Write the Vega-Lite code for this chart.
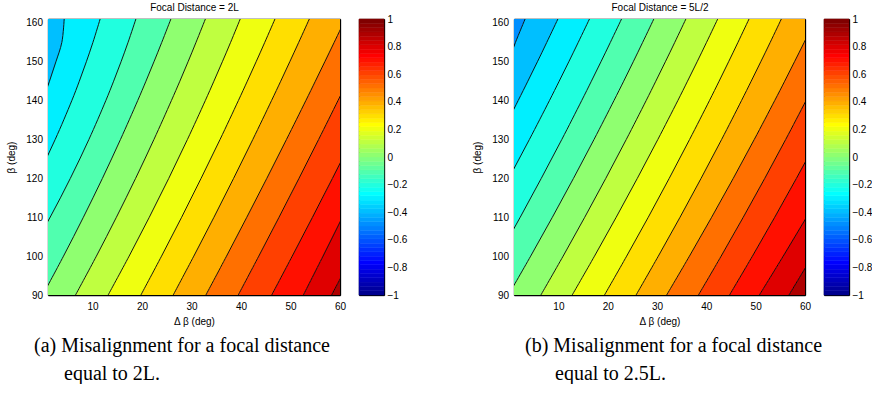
{
  "$schema": "https://vega.github.io/schema/vega-lite/v6.json",
  "background": "white",
  "padding": {"left": 6, "top": 2, "right": 0, "bottom": 0},
  "config": {
    "font": "Liberation Sans",
    "view": {"stroke": null},
    "axis": {
      "grid": false, "domainColor": "#000000", "domainWidth": 1.3,
      "tickColor": "#000000", "tickWidth": 1,
      "labelColor": "#000000", "titleColor": "#000000",
      "labelFontSize": 10, "titleFontSize": 10, "titleFontWeight": "normal",
      "labelFlush": false, "labelOverlap": false, "zindex": 1
    }
  },
  "datasets": {
    "a": [
      {"z":-0.4,"beta":90,"db":-100},{"z":-0.4,"beta":100,"db":-100},{"z":-0.4,"beta":110,"db":-100},{"z":-0.4,"beta":120,"db":-100},{"z":-0.4,"beta":130,"db":-100},{"z":-0.4,"beta":140,"db":-100},{"z":-0.4,"beta":145,"db":-100},{"z":-0.4,"beta":150,"db":-100},{"z":-0.4,"beta":155,"db":-100},{"z":-0.4,"beta":161,"db":-100},
      {"z":-0.3,"beta":90,"db":-20},{"z":-0.3,"beta":100,"db":-15},{"z":-0.3,"beta":110,"db":-10.5},{"z":-0.3,"beta":120,"db":-6.5},{"z":-0.3,"beta":130,"db":-3},{"z":-0.3,"beta":140,"db":-0.1},{"z":-0.3,"beta":145,"db":1.3},{"z":-0.3,"beta":150,"db":2.6},{"z":-0.3,"beta":155,"db":3.8},{"z":-0.3,"beta":161,"db":4.27},
      {"z":-0.2,"beta":90,"db":-14.95},{"z":-0.2,"beta":100,"db":-10},{"z":-0.2,"beta":110,"db":-5.45},{"z":-0.2,"beta":120,"db":-1.3},{"z":-0.2,"beta":130,"db":2.45},{"z":-0.2,"beta":140,"db":5.81},{"z":-0.2,"beta":145,"db":7.33},{"z":-0.2,"beta":150,"db":8.75},{"z":-0.2,"beta":155,"db":10.08},{"z":-0.2,"beta":161,"db":11.54},
      {"z":-0.1,"beta":90,"db":-7.75},{"z":-0.1,"beta":100,"db":-2.99},{"z":-0.1,"beta":110,"db":1.43},{"z":-0.1,"beta":120,"db":5.51},{"z":-0.1,"beta":130,"db":9.26},{"z":-0.1,"beta":140,"db":12.68},{"z":-0.1,"beta":145,"db":14.26},{"z":-0.1,"beta":150,"db":15.76},{"z":-0.1,"beta":155,"db":17.18},{"z":-0.1,"beta":161,"db":18.76},
      {"z":0,"beta":90,"db":-0.07},{"z":0,"beta":100,"db":4.13},{"z":0,"beta":110,"db":8.15},{"z":0,"beta":120,"db":11.99},{"z":0,"beta":130,"db":15.64},{"z":0,"beta":140,"db":19.12},{"z":0,"beta":145,"db":20.79},{"z":0,"beta":150,"db":22.41},{"z":0,"beta":155,"db":23.99},{"z":0,"beta":161,"db":25.83},
      {"z":0.1,"beta":90,"db":6.56},{"z":0.1,"beta":100,"db":10.78},{"z":0.1,"beta":110,"db":14.82},{"z":0.1,"beta":120,"db":18.7},{"z":0.1,"beta":130,"db":22.4},{"z":0.1,"beta":140,"db":25.93},{"z":0.1,"beta":145,"db":27.64},{"z":0.1,"beta":150,"db":29.3},{"z":0.1,"beta":155,"db":30.91},{"z":0.1,"beta":161,"db":32.8},
      {"z":0.2,"beta":90,"db":13.15},{"z":0.2,"beta":100,"db":17.39},{"z":0.2,"beta":110,"db":21.47},{"z":0.2,"beta":120,"db":25.4},{"z":0.2,"beta":130,"db":29.17},{"z":0.2,"beta":140,"db":32.78},{"z":0.2,"beta":145,"db":34.52},{"z":0.2,"beta":150,"db":36.23},{"z":0.2,"beta":155,"db":37.9},{"z":0.2,"beta":161,"db":39.84},
      {"z":0.3,"beta":90,"db":19.77},{"z":0.3,"beta":100,"db":23.94},{"z":0.3,"beta":110,"db":28},{"z":0.3,"beta":120,"db":31.93},{"z":0.3,"beta":130,"db":35.76},{"z":0.3,"beta":140,"db":39.46},{"z":0.3,"beta":145,"db":41.27},{"z":0.3,"beta":150,"db":43.05},{"z":0.3,"beta":155,"db":44.8},{"z":0.3,"beta":161,"db":46.86},
      {"z":0.4,"beta":90,"db":26.3},{"z":0.4,"beta":100,"db":30.46},{"z":0.4,"beta":110,"db":34.53},{"z":0.4,"beta":120,"db":38.5},{"z":0.4,"beta":130,"db":42.38},{"z":0.4,"beta":140,"db":46.16},{"z":0.4,"beta":145,"db":48.02},{"z":0.4,"beta":150,"db":49.85},{"z":0.4,"beta":155,"db":51.66},{"z":0.4,"beta":161,"db":53.8},
      {"z":0.5,"beta":90,"db":32.9},{"z":0.5,"beta":100,"db":37.07},{"z":0.5,"beta":110,"db":41.17},{"z":0.5,"beta":120,"db":45.21},{"z":0.5,"beta":130,"db":49.18},{"z":0.5,"beta":140,"db":53.09},{"z":0.5,"beta":145,"db":55.02},{"z":0.5,"beta":150,"db":56.93},{"z":0.5,"beta":155,"db":58.83},{"z":0.5,"beta":161,"db":61.09},
      {"z":0.6,"beta":90,"db":39.44},{"z":0.6,"beta":100,"db":43.59},{"z":0.6,"beta":110,"db":47.68},{"z":0.6,"beta":120,"db":51.71},{"z":0.6,"beta":130,"db":55.68},{"z":0.6,"beta":140,"db":59.59},{"z":0.6,"beta":145,"db":61.52},{"z":0.6,"beta":150,"db":63.43},{"z":0.6,"beta":155,"db":65.34},{"z":0.6,"beta":161,"db":67.6},
      {"z":0.7,"beta":90,"db":46.2},{"z":0.7,"beta":100,"db":50.35},{"z":0.7,"beta":110,"db":54.44},{"z":0.7,"beta":120,"db":58.47},{"z":0.7,"beta":130,"db":62.44},{"z":0.7,"beta":140,"db":66.35},{"z":0.7,"beta":145,"db":68.28},{"z":0.7,"beta":150,"db":70.2},{"z":0.7,"beta":155,"db":72.1},{"z":0.7,"beta":161,"db":74.37},
      {"z":0.8,"beta":90,"db":52.6},{"z":0.8,"beta":100,"db":56.57},{"z":0.8,"beta":110,"db":60.48},{"z":0.8,"beta":120,"db":64.33},{"z":0.8,"beta":130,"db":68.12},{"z":0.8,"beta":140,"db":71.85},{"z":0.8,"beta":145,"db":73.69},{"z":0.8,"beta":150,"db":75.52},{"z":0.8,"beta":155,"db":77.33},{"z":0.8,"beta":161,"db":79.49},
      {"z":0.9,"beta":90,"db":58.3},{"z":0.9,"beta":100,"db":62.47},{"z":0.9,"beta":110,"db":66.58},{"z":0.9,"beta":120,"db":70.63},{"z":0.9,"beta":130,"db":74.62},{"z":0.9,"beta":140,"db":78.55},{"z":0.9,"beta":145,"db":80.49},{"z":0.9,"beta":150,"db":82.42},{"z":0.9,"beta":155,"db":84.33},{"z":0.9,"beta":161,"db":86.61},
      {"z":1,"beta":90,"db":150},{"z":1,"beta":100,"db":150},{"z":1,"beta":110,"db":150},{"z":1,"beta":120,"db":150},{"z":1,"beta":130,"db":150},{"z":1,"beta":140,"db":150},{"z":1,"beta":145,"db":150},{"z":1,"beta":150,"db":150},{"z":1,"beta":155,"db":150},{"z":1,"beta":161,"db":150}
    ],
    "b": [
      {"z":-0.5,"beta":90,"db":-100},{"z":-0.5,"beta":100,"db":-100},{"z":-0.5,"beta":110,"db":-100},{"z":-0.5,"beta":120,"db":-100},{"z":-0.5,"beta":130,"db":-100},{"z":-0.5,"beta":140,"db":-100},{"z":-0.5,"beta":145,"db":-100},{"z":-0.5,"beta":150,"db":-100},{"z":-0.5,"beta":155,"db":-100},{"z":-0.5,"beta":161,"db":-100},
      {"z":-0.4,"beta":90,"db":-26},{"z":-0.4,"beta":100,"db":-21.6},{"z":-0.4,"beta":110,"db":-17.2},{"z":-0.4,"beta":120,"db":-12.9},{"z":-0.4,"beta":130,"db":-8.6},{"z":-0.4,"beta":140,"db":-4.4},{"z":-0.4,"beta":145,"db":-2.3},{"z":-0.4,"beta":150,"db":-0.2},{"z":-0.4,"beta":155,"db":1.3},{"z":-0.4,"beta":161,"db":3.25},
      {"z":-0.3,"beta":90,"db":-19.49},{"z":-0.3,"beta":100,"db":-14.98},{"z":-0.3,"beta":110,"db":-10.6},{"z":-0.3,"beta":120,"db":-6.33},{"z":-0.3,"beta":130,"db":-2.19},{"z":-0.3,"beta":140,"db":1.84},{"z":-0.3,"beta":145,"db":3.81},{"z":-0.3,"beta":150,"db":5.75},{"z":-0.3,"beta":155,"db":7.65},{"z":-0.3,"beta":161,"db":9.9},
      {"z":-0.2,"beta":90,"db":-13.3},{"z":-0.2,"beta":100,"db":-8.77},{"z":-0.2,"beta":110,"db":-4.35},{"z":-0.2,"beta":120,"db":-0.06},{"z":-0.2,"beta":130,"db":4.12},{"z":-0.2,"beta":140,"db":8.18},{"z":-0.2,"beta":145,"db":10.16},{"z":-0.2,"beta":150,"db":12.11},{"z":-0.2,"beta":155,"db":14.03},{"z":-0.2,"beta":161,"db":16.3},
      {"z":-0.1,"beta":90,"db":-6.65},{"z":-0.1,"beta":100,"db":-2.13},{"z":-0.1,"beta":110,"db":2.26},{"z":-0.1,"beta":120,"db":6.53},{"z":-0.1,"beta":130,"db":10.69},{"z":-0.1,"beta":140,"db":14.72},{"z":-0.1,"beta":145,"db":16.69},{"z":-0.1,"beta":150,"db":18.63},{"z":-0.1,"beta":155,"db":20.54},{"z":-0.1,"beta":161,"db":22.8},
      {"z":0,"beta":90,"db":-0.14},{"z":0,"beta":100,"db":4.38},{"z":0,"beta":110,"db":8.78},{"z":0,"beta":120,"db":13.06},{"z":0,"beta":130,"db":17.22},{"z":0,"beta":140,"db":21.26},{"z":0,"beta":145,"db":23.24},{"z":0,"beta":150,"db":25.18},{"z":0,"beta":155,"db":27.09},{"z":0,"beta":161,"db":29.35},
      {"z":0.1,"beta":90,"db":6.45},{"z":0.1,"beta":100,"db":10.96},{"z":0.1,"beta":110,"db":15.34},{"z":0.1,"beta":120,"db":19.61},{"z":0.1,"beta":130,"db":23.76},{"z":0.1,"beta":140,"db":27.79},{"z":0.1,"beta":145,"db":29.75},{"z":0.1,"beta":150,"db":31.69},{"z":0.1,"beta":155,"db":33.6},{"z":0.1,"beta":161,"db":35.85},
      {"z":0.2,"beta":90,"db":12.8},{"z":0.2,"beta":100,"db":17.32},{"z":0.2,"beta":110,"db":21.72},{"z":0.2,"beta":120,"db":26},{"z":0.2,"beta":130,"db":30.16},{"z":0.2,"beta":140,"db":34.21},{"z":0.2,"beta":145,"db":36.18},{"z":0.2,"beta":150,"db":38.13},{"z":0.2,"beta":155,"db":40.04},{"z":0.2,"beta":161,"db":42.3},
      {"z":0.3,"beta":90,"db":19.35},{"z":0.3,"beta":100,"db":23.84},{"z":0.3,"beta":110,"db":28.22},{"z":0.3,"beta":120,"db":32.47},{"z":0.3,"beta":130,"db":36.6},{"z":0.3,"beta":140,"db":40.62},{"z":0.3,"beta":145,"db":42.58},{"z":0.3,"beta":150,"db":44.51},{"z":0.3,"beta":155,"db":46.41},{"z":0.3,"beta":161,"db":48.65},
      {"z":0.4,"beta":90,"db":25.75},{"z":0.4,"beta":100,"db":30.26},{"z":0.4,"beta":110,"db":34.66},{"z":0.4,"beta":120,"db":38.93},{"z":0.4,"beta":130,"db":43.09},{"z":0.4,"beta":140,"db":47.12},{"z":0.4,"beta":145,"db":49.09},{"z":0.4,"beta":150,"db":51.03},{"z":0.4,"beta":155,"db":52.95},{"z":0.4,"beta":161,"db":55.2},
      {"z":0.5,"beta":90,"db":31.95},{"z":0.5,"beta":100,"db":36.57},{"z":0.5,"beta":110,"db":41.07},{"z":0.5,"beta":120,"db":45.45},{"z":0.5,"beta":130,"db":49.71},{"z":0.5,"beta":140,"db":53.85},{"z":0.5,"beta":145,"db":55.88},{"z":0.5,"beta":150,"db":57.87},{"z":0.5,"beta":155,"db":59.84},{"z":0.5,"beta":161,"db":62.15},
      {"z":0.6,"beta":90,"db":38.4},{"z":0.6,"beta":100,"db":43},{"z":0.6,"beta":110,"db":47.48},{"z":0.6,"beta":120,"db":51.84},{"z":0.6,"beta":130,"db":56.08},{"z":0.6,"beta":140,"db":60.2},{"z":0.6,"beta":145,"db":62.22},{"z":0.6,"beta":150,"db":64.2},{"z":0.6,"beta":155,"db":66.16},{"z":0.6,"beta":161,"db":68.46},
      {"z":0.7,"beta":90,"db":44.7},{"z":0.7,"beta":100,"db":49.34},{"z":0.7,"beta":110,"db":53.86},{"z":0.7,"beta":120,"db":58.26},{"z":0.7,"beta":130,"db":62.54},{"z":0.7,"beta":140,"db":66.7},{"z":0.7,"beta":145,"db":68.74},{"z":0.7,"beta":150,"db":70.74},{"z":0.7,"beta":155,"db":72.72},{"z":0.7,"beta":161,"db":75.05},
      {"z":0.8,"beta":90,"db":50.75},{"z":0.8,"beta":100,"db":55.59},{"z":0.8,"beta":110,"db":60.31},{"z":0.8,"beta":120,"db":64.91},{"z":0.8,"beta":130,"db":69.39},{"z":0.8,"beta":140,"db":73.75},{"z":0.8,"beta":145,"db":75.89},{"z":0.8,"beta":150,"db":77.99},{"z":0.8,"beta":155,"db":80.07},{"z":0.8,"beta":161,"db":82.52},
      {"z":0.9,"beta":90,"db":56.75},{"z":0.9,"beta":100,"db":61.49},{"z":0.9,"beta":110,"db":66.11},{"z":0.9,"beta":120,"db":70.61},{"z":0.9,"beta":130,"db":74.99},{"z":0.9,"beta":140,"db":79.25},{"z":0.9,"beta":145,"db":81.34},{"z":0.9,"beta":150,"db":83.39},{"z":0.9,"beta":155,"db":85.42},{"z":0.9,"beta":161,"db":87.81},
      {"z":1,"beta":90,"db":150},{"z":1,"beta":100,"db":150},{"z":1,"beta":110,"db":150},{"z":1,"beta":120,"db":150},{"z":1,"beta":130,"db":150},{"z":1,"beta":140,"db":150},{"z":1,"beta":145,"db":150},{"z":1,"beta":150,"db":150},{"z":1,"beta":155,"db":150},{"z":1,"beta":161,"db":150}
    ],
    "cb": [
      {"lo":-1,"hi":-0.96875},{"lo":-0.96875,"hi":-0.9375},{"lo":-0.9375,"hi":-0.90625},{"lo":-0.90625,"hi":-0.875},
      {"lo":-0.875,"hi":-0.84375},{"lo":-0.84375,"hi":-0.8125},{"lo":-0.8125,"hi":-0.78125},{"lo":-0.78125,"hi":-0.75},
      {"lo":-0.75,"hi":-0.71875},{"lo":-0.71875,"hi":-0.6875},{"lo":-0.6875,"hi":-0.65625},{"lo":-0.65625,"hi":-0.625},
      {"lo":-0.625,"hi":-0.59375},{"lo":-0.59375,"hi":-0.5625},{"lo":-0.5625,"hi":-0.53125},{"lo":-0.53125,"hi":-0.5},
      {"lo":-0.5,"hi":-0.46875},{"lo":-0.46875,"hi":-0.4375},{"lo":-0.4375,"hi":-0.40625},{"lo":-0.40625,"hi":-0.375},
      {"lo":-0.375,"hi":-0.34375},{"lo":-0.34375,"hi":-0.3125},{"lo":-0.3125,"hi":-0.28125},{"lo":-0.28125,"hi":-0.25},
      {"lo":-0.25,"hi":-0.21875},{"lo":-0.21875,"hi":-0.1875},{"lo":-0.1875,"hi":-0.15625},{"lo":-0.15625,"hi":-0.125},
      {"lo":-0.125,"hi":-0.09375},{"lo":-0.09375,"hi":-0.0625},{"lo":-0.0625,"hi":-0.03125},{"lo":-0.03125,"hi":0},
      {"lo":0,"hi":0.03125},{"lo":0.03125,"hi":0.0625},{"lo":0.0625,"hi":0.09375},{"lo":0.09375,"hi":0.125},
      {"lo":0.125,"hi":0.15625},{"lo":0.15625,"hi":0.1875},{"lo":0.1875,"hi":0.21875},{"lo":0.21875,"hi":0.25},
      {"lo":0.25,"hi":0.28125},{"lo":0.28125,"hi":0.3125},{"lo":0.3125,"hi":0.34375},{"lo":0.34375,"hi":0.375},
      {"lo":0.375,"hi":0.40625},{"lo":0.40625,"hi":0.4375},{"lo":0.4375,"hi":0.46875},{"lo":0.46875,"hi":0.5},
      {"lo":0.5,"hi":0.53125},{"lo":0.53125,"hi":0.5625},{"lo":0.5625,"hi":0.59375},{"lo":0.59375,"hi":0.625},
      {"lo":0.625,"hi":0.65625},{"lo":0.65625,"hi":0.6875},{"lo":0.6875,"hi":0.71875},{"lo":0.71875,"hi":0.75},
      {"lo":0.75,"hi":0.78125},{"lo":0.78125,"hi":0.8125},{"lo":0.8125,"hi":0.84375},{"lo":0.84375,"hi":0.875},
      {"lo":0.875,"hi":0.90625},{"lo":0.90625,"hi":0.9375},{"lo":0.9375,"hi":0.96875},{"lo":0.96875,"hi":1}
    ]
  },
  "spacing": 65,
  "hconcat": [
    {
      "bounds": "flush",
      "spacing": 19,
      "hconcat": [
        {
          "width": 292, "height": 276,
          "data": {"name": "a"},
          "transform": [{"window": [{"op": "lead", "field": "db", "as": "r"}], "groupby": ["beta"], "sort": [{"field": "z"}]}],
          "title": {"text": ["(a) Misalignment for a focal distance", "\u200b\u00a0\u00a0\u00a0\u00a0\u00a0\u00a0equal to 2L."], "orient": "bottom", "anchor": "start", "frame": "group", "dx": -14, "offset": 10, "font": "Liberation Serif", "fontSize": 20, "fontWeight": "normal", "lineHeight": 28, "color": "#000000"},
          "layer": [
            {
              "mark": {"type": "area", "orient": "horizontal", "clip": true, "interpolate": "catmull-rom"},
              "transform": [{"filter": "isValid(datum.r)"}],
              "encoding": {
                "y": {"field": "beta", "type": "quantitative", "scale": {"domain": [90, 161], "nice": false, "zero": false},
                      "axis": {"orient": "left", "title": "β (deg)", "values": [90,100,110,120,130,140,150,160], "tickSize": -3, "labelPadding": 8.5, "titlePadding": 9}},
                "x": {"field": "db", "type": "quantitative", "scale": {"domain": [1, 60], "nice": false, "zero": false},
                      "axis": {"orient": "bottom", "title": "Δ β (deg)", "values": [10,20,30,40,50,60], "tickSize": -3, "labelPadding": 9, "titlePadding": 5}},
                "x2": {"field": "r"},
                "color": {"field": "z", "type": "quantitative", "legend": null,
                          "scale": {"type": "quantize", "domain": [-1, 1], "nice": false, "zero": false,
                                    "range": ["#00008f","#00009f","#0000af","#0000bf","#0000cf","#0000df","#0000ef","#0000ff","#0010ff","#0020ff","#0030ff","#0040ff","#0050ff","#0060ff","#0070ff","#0080ff","#008fff","#009fff","#00afff","#00bfff","#00cfff","#00dfff","#00efff","#00ffff","#10ffef","#20ffdf","#30ffcf","#40ffbf","#50ffaf","#60ff9f","#70ff8f","#80ff80","#8fff70","#9fff60","#afff50","#bfff40","#cfff30","#dfff20","#efff10","#ffff00","#ffef00","#ffdf00","#ffcf00","#ffbf00","#ffaf00","#ff9f00","#ff8f00","#ff8000","#ff7000","#ff6000","#ff5000","#ff4000","#ff3000","#ff2000","#ff1000","#ff0000","#ef0000","#df0000","#cf0000","#bf0000","#af0000","#9f0000","#8f0000","#800000"]}},
                "detail": {"field": "z", "type": "quantitative"}
              }
            },
            {
              "mark": {"type": "line", "clip": true, "color": "#000000", "strokeWidth": 0.9, "interpolate": "catmull-rom"},
              "transform": [{"filter": "datum.db > -100 && datum.db < 150"}],
              "encoding": {
                "y": {"field": "beta", "type": "quantitative", "scale": {"domain": [90, 161], "nice": false, "zero": false},
                      "axis": {"orient": "right", "labels": false, "title": null, "values": [90,100,110,120,130,140,150,160], "tickSize": -3}},
                "x": {"field": "db", "type": "quantitative", "scale": {"domain": [1, 60], "nice": false, "zero": false},
                      "axis": {"orient": "top", "labels": false, "title": "Focal Distance = 2L", "values": [10,20,30,40,50,60], "tickSize": -3, "titlePadding": 6}},
                "detail": {"field": "z", "type": "quantitative"},
                "order": {"field": "beta", "type": "quantitative"}
              }
            }
          ],
          "resolve": {"axis": {"x": "independent", "y": "independent"}}
        },
        {
          "width": 25, "height": 276,
          "data": {"name": "cb"},
          "layer": [
            {
              "mark": {"type": "rect", "strokeWidth": 0.5},
              "encoding": {
                "y": {"field": "lo", "type": "quantitative", "scale": {"domain": [-1, 1], "nice": false, "zero": false},
                      "axis": {"orient": "right", "title": null, "values": [-1,-0.8,-0.6,-0.4,-0.2,0,0.2,0.4,0.6,0.8,1], "format": "~g", "tickSize": -2.5, "labelPadding": 5.5}},
                "y2": {"field": "hi"},
                "x": {"datum": 0, "type": "quantitative", "scale": {"domain": [0, 1], "nice": false, "zero": false},
                      "axis": {"orient": "bottom", "labels": false, "ticks": false, "title": null}},
                "x2": {"datum": 1},
                "color": {"field": "lo", "type": "quantitative", "legend": null,
                          "scale": {"type": "quantize", "domain": [-1, 1], "nice": false, "zero": false,
                                    "range": ["#00008f","#00009f","#0000af","#0000bf","#0000cf","#0000df","#0000ef","#0000ff","#0010ff","#0020ff","#0030ff","#0040ff","#0050ff","#0060ff","#0070ff","#0080ff","#008fff","#009fff","#00afff","#00bfff","#00cfff","#00dfff","#00efff","#00ffff","#10ffef","#20ffdf","#30ffcf","#40ffbf","#50ffaf","#60ff9f","#70ff8f","#80ff80","#8fff70","#9fff60","#afff50","#bfff40","#cfff30","#dfff20","#efff10","#ffff00","#ffef00","#ffdf00","#ffcf00","#ffbf00","#ffaf00","#ff9f00","#ff8f00","#ff8000","#ff7000","#ff6000","#ff5000","#ff4000","#ff3000","#ff2000","#ff1000","#ff0000","#ef0000","#df0000","#cf0000","#bf0000","#af0000","#9f0000","#8f0000","#800000"]}},
                "stroke": {"field": "lo", "type": "quantitative", "legend": null,
                          "scale": {"type": "quantize", "domain": [-1, 1], "nice": false, "zero": false,
                                    "range": ["#00008f","#00009f","#0000af","#0000bf","#0000cf","#0000df","#0000ef","#0000ff","#0010ff","#0020ff","#0030ff","#0040ff","#0050ff","#0060ff","#0070ff","#0080ff","#008fff","#009fff","#00afff","#00bfff","#00cfff","#00dfff","#00efff","#00ffff","#10ffef","#20ffdf","#30ffcf","#40ffbf","#50ffaf","#60ff9f","#70ff8f","#80ff80","#8fff70","#9fff60","#afff50","#bfff40","#cfff30","#dfff20","#efff10","#ffff00","#ffef00","#ffdf00","#ffcf00","#ffbf00","#ffaf00","#ff9f00","#ff8f00","#ff8000","#ff7000","#ff6000","#ff5000","#ff4000","#ff3000","#ff2000","#ff1000","#ff0000","#ef0000","#df0000","#cf0000","#bf0000","#af0000","#9f0000","#8f0000","#800000"]}}
              }
            },
            {
              "mark": {"type": "rect", "opacity": 0},
              "encoding": {
                "y": {"field": "lo", "type": "quantitative", "scale": {"domain": [-1, 1], "nice": false, "zero": false},
                      "axis": {"orient": "left", "labels": false, "title": null, "values": [-1,-0.8,-0.6,-0.4,-0.2,0,0.2,0.4,0.6,0.8,1], "tickSize": -2.5}},
                "y2": {"field": "hi"},
                "x": {"datum": 0, "type": "quantitative", "scale": {"domain": [0, 1], "nice": false, "zero": false},
                      "axis": {"orient": "top", "labels": false, "ticks": false, "title": null}},
                "x2": {"datum": 1}
              }
            }
          ],
          "resolve": {"axis": {"x": "independent", "y": "independent"}}
        }
      ]
    },
    {
      "bounds": "flush",
      "spacing": 19,
      "hconcat": [
        {
          "width": 291, "height": 276,
          "data": {"name": "b"},
          "transform": [{"window": [{"op": "lead", "field": "db", "as": "r"}], "groupby": ["beta"], "sort": [{"field": "z"}]}],
          "title": {"text": ["(b) Misalignment for a focal distance", "\u200b\u00a0\u00a0\u00a0\u00a0\u00a0\u00a0equal to 2.5L."], "orient": "bottom", "anchor": "start", "frame": "group", "dx": 11, "offset": 10, "font": "Liberation Serif", "fontSize": 20, "fontWeight": "normal", "lineHeight": 28, "color": "#000000"},
          "layer": [
            {
              "mark": {"type": "area", "orient": "horizontal", "clip": true, "interpolate": "catmull-rom"},
              "transform": [{"filter": "isValid(datum.r)"}],
              "encoding": {
                "y": {"field": "beta", "type": "quantitative", "scale": {"domain": [90, 161], "nice": false, "zero": false},
                      "axis": {"orient": "left", "title": "β (deg)", "values": [90,100,110,120,130,140,150,160], "tickSize": -3, "labelPadding": 8.5, "titlePadding": 9}},
                "x": {"field": "db", "type": "quantitative", "scale": {"domain": [1, 60], "nice": false, "zero": false},
                      "axis": {"orient": "bottom", "title": "Δ β (deg)", "values": [10,20,30,40,50,60], "tickSize": -3, "labelPadding": 9, "titlePadding": 5}},
                "x2": {"field": "r"},
                "color": {"field": "z", "type": "quantitative", "legend": null,
                          "scale": {"type": "quantize", "domain": [-1, 1], "nice": false, "zero": false,
                                    "range": ["#00008f","#00009f","#0000af","#0000bf","#0000cf","#0000df","#0000ef","#0000ff","#0010ff","#0020ff","#0030ff","#0040ff","#0050ff","#0060ff","#0070ff","#0080ff","#008fff","#009fff","#00afff","#00bfff","#00cfff","#00dfff","#00efff","#00ffff","#10ffef","#20ffdf","#30ffcf","#40ffbf","#50ffaf","#60ff9f","#70ff8f","#80ff80","#8fff70","#9fff60","#afff50","#bfff40","#cfff30","#dfff20","#efff10","#ffff00","#ffef00","#ffdf00","#ffcf00","#ffbf00","#ffaf00","#ff9f00","#ff8f00","#ff8000","#ff7000","#ff6000","#ff5000","#ff4000","#ff3000","#ff2000","#ff1000","#ff0000","#ef0000","#df0000","#cf0000","#bf0000","#af0000","#9f0000","#8f0000","#800000"]}},
                "detail": {"field": "z", "type": "quantitative"}
              }
            },
            {
              "mark": {"type": "line", "clip": true, "color": "#000000", "strokeWidth": 0.9, "interpolate": "catmull-rom"},
              "transform": [{"filter": "datum.db > -100 && datum.db < 150"}],
              "encoding": {
                "y": {"field": "beta", "type": "quantitative", "scale": {"domain": [90, 161], "nice": false, "zero": false},
                      "axis": {"orient": "right", "labels": false, "title": null, "values": [90,100,110,120,130,140,150,160], "tickSize": -3}},
                "x": {"field": "db", "type": "quantitative", "scale": {"domain": [1, 60], "nice": false, "zero": false},
                      "axis": {"orient": "top", "labels": false, "title": "Focal Distance = 5L/2", "values": [10,20,30,40,50,60], "tickSize": -3, "titlePadding": 6}},
                "detail": {"field": "z", "type": "quantitative"},
                "order": {"field": "beta", "type": "quantitative"}
              }
            }
          ],
          "resolve": {"axis": {"x": "independent", "y": "independent"}}
        },
        {
          "width": 25, "height": 276,
          "data": {"name": "cb"},
          "layer": [
            {
              "mark": {"type": "rect", "strokeWidth": 0.5},
              "encoding": {
                "y": {"field": "lo", "type": "quantitative", "scale": {"domain": [-1, 1], "nice": false, "zero": false},
                      "axis": {"orient": "right", "title": null, "values": [-1,-0.8,-0.6,-0.4,-0.2,0,0.2,0.4,0.6,0.8,1], "format": "~g", "tickSize": -2.5, "labelPadding": 5.5}},
                "y2": {"field": "hi"},
                "x": {"datum": 0, "type": "quantitative", "scale": {"domain": [0, 1], "nice": false, "zero": false},
                      "axis": {"orient": "bottom", "labels": false, "ticks": false, "title": null}},
                "x2": {"datum": 1},
                "color": {"field": "lo", "type": "quantitative", "legend": null,
                          "scale": {"type": "quantize", "domain": [-1, 1], "nice": false, "zero": false,
                                    "range": ["#00008f","#00009f","#0000af","#0000bf","#0000cf","#0000df","#0000ef","#0000ff","#0010ff","#0020ff","#0030ff","#0040ff","#0050ff","#0060ff","#0070ff","#0080ff","#008fff","#009fff","#00afff","#00bfff","#00cfff","#00dfff","#00efff","#00ffff","#10ffef","#20ffdf","#30ffcf","#40ffbf","#50ffaf","#60ff9f","#70ff8f","#80ff80","#8fff70","#9fff60","#afff50","#bfff40","#cfff30","#dfff20","#efff10","#ffff00","#ffef00","#ffdf00","#ffcf00","#ffbf00","#ffaf00","#ff9f00","#ff8f00","#ff8000","#ff7000","#ff6000","#ff5000","#ff4000","#ff3000","#ff2000","#ff1000","#ff0000","#ef0000","#df0000","#cf0000","#bf0000","#af0000","#9f0000","#8f0000","#800000"]}},
                "stroke": {"field": "lo", "type": "quantitative", "legend": null,
                          "scale": {"type": "quantize", "domain": [-1, 1], "nice": false, "zero": false,
                                    "range": ["#00008f","#00009f","#0000af","#0000bf","#0000cf","#0000df","#0000ef","#0000ff","#0010ff","#0020ff","#0030ff","#0040ff","#0050ff","#0060ff","#0070ff","#0080ff","#008fff","#009fff","#00afff","#00bfff","#00cfff","#00dfff","#00efff","#00ffff","#10ffef","#20ffdf","#30ffcf","#40ffbf","#50ffaf","#60ff9f","#70ff8f","#80ff80","#8fff70","#9fff60","#afff50","#bfff40","#cfff30","#dfff20","#efff10","#ffff00","#ffef00","#ffdf00","#ffcf00","#ffbf00","#ffaf00","#ff9f00","#ff8f00","#ff8000","#ff7000","#ff6000","#ff5000","#ff4000","#ff3000","#ff2000","#ff1000","#ff0000","#ef0000","#df0000","#cf0000","#bf0000","#af0000","#9f0000","#8f0000","#800000"]}}
              }
            },
            {
              "mark": {"type": "rect", "opacity": 0},
              "encoding": {
                "y": {"field": "lo", "type": "quantitative", "scale": {"domain": [-1, 1], "nice": false, "zero": false},
                      "axis": {"orient": "left", "labels": false, "title": null, "values": [-1,-0.8,-0.6,-0.4,-0.2,0,0.2,0.4,0.6,0.8,1], "tickSize": -2.5}},
                "y2": {"field": "hi"},
                "x": {"datum": 0, "type": "quantitative", "scale": {"domain": [0, 1], "nice": false, "zero": false},
                      "axis": {"orient": "top", "labels": false, "ticks": false, "title": null}},
                "x2": {"datum": 1}
              }
            }
          ],
          "resolve": {"axis": {"x": "independent", "y": "independent"}}
        }
      ]
    }
  ]
}
